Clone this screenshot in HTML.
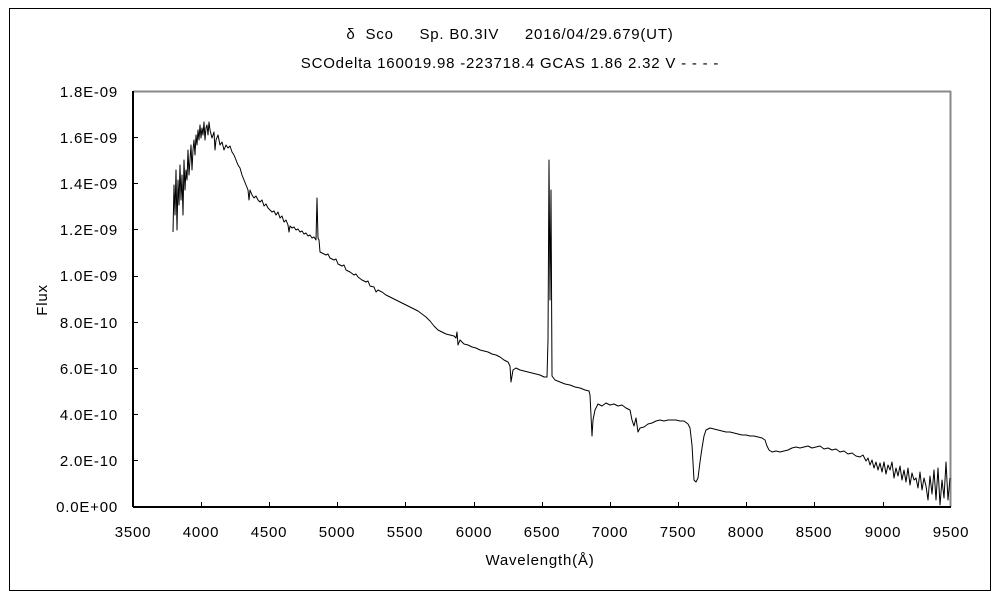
<!DOCTYPE html>
<html><head><meta charset="utf-8"><style>
body{margin:0;background:#fff;}
svg text{font-family:"Liberation Sans","Noto Sans CJK JP",sans-serif;font-size:15px;letter-spacing:0.8px;fill:#000;}
</style></head><body>
<svg width="1000" height="600" xmlns="http://www.w3.org/2000/svg">
<rect x="0" y="0" width="1000" height="600" fill="#fff"/>
<rect x="9.5" y="8.5" width="981" height="582" fill="none" stroke="#000" stroke-width="1"/>
<text x="510" y="39" text-anchor="middle" xml:space="preserve">δ  Sco　  Sp. B0.3IV　  2016/04/29.679(UT)</text>
<text x="510" y="68" text-anchor="middle">SCOdelta 160019.98 -223718.4 GCAS 1.86 2.32  V - - - -</text>
<line x1="133" y1="91.5" x2="951" y2="91.5" stroke="#888" stroke-width="2"/>
<line x1="950.5" y1="91" x2="950.5" y2="507" stroke="#888" stroke-width="2"/>
<line x1="133" y1="91" x2="133" y2="507" stroke="#000" stroke-width="2"/>
<line x1="133" y1="507" x2="951" y2="507" stroke="#000" stroke-width="2"/>
<g stroke="#000" stroke-width="1">
<line x1="133" y1="137.5" x2="138" y2="137.5"/><line x1="133" y1="183.5" x2="138" y2="183.5"/>
<line x1="133" y1="229.5" x2="138" y2="229.5"/><line x1="133" y1="276.5" x2="138" y2="276.5"/>
<line x1="133" y1="322.5" x2="138" y2="322.5"/><line x1="133" y1="368.5" x2="138" y2="368.5"/>
<line x1="133" y1="414.5" x2="138" y2="414.5"/><line x1="133" y1="460.5" x2="138" y2="460.5"/>
<line x1="201.5" y1="507" x2="201.5" y2="502"/><line x1="269.5" y1="507" x2="269.5" y2="502"/>
<line x1="337.5" y1="507" x2="337.5" y2="502"/><line x1="405.5" y1="507" x2="405.5" y2="502"/>
<line x1="474.5" y1="507" x2="474.5" y2="502"/><line x1="542.5" y1="507" x2="542.5" y2="502"/>
<line x1="610.5" y1="507" x2="610.5" y2="502"/><line x1="678.5" y1="507" x2="678.5" y2="502"/>
<line x1="746.5" y1="507" x2="746.5" y2="502"/><line x1="814.5" y1="507" x2="814.5" y2="502"/>
<line x1="883.5" y1="507" x2="883.5" y2="502"/>
</g>
<g>
<text x="118" y="97" text-anchor="end">1.8E-09</text>
<text x="118" y="143" text-anchor="end">1.6E-09</text>
<text x="118" y="189" text-anchor="end">1.4E-09</text>
<text x="118" y="235" text-anchor="end">1.2E-09</text>
<text x="118" y="281" text-anchor="end">1.0E-09</text>
<text x="118" y="328" text-anchor="end">8.0E-10</text>
<text x="118" y="374" text-anchor="end">6.0E-10</text>
<text x="118" y="420" text-anchor="end">4.0E-10</text>
<text x="118" y="466" text-anchor="end">2.0E-10</text>
<text x="118" y="512" text-anchor="end">0.0E+00</text>
</g>
<g text-anchor="middle">
<text x="133" y="537">3500</text><text x="201" y="537">4000</text><text x="269" y="537">4500</text>
<text x="337" y="537">5000</text><text x="405" y="537">5500</text><text x="474" y="537">6000</text>
<text x="542" y="537">6500</text><text x="610" y="537">7000</text><text x="678" y="537">7500</text>
<text x="746" y="537">8000</text><text x="814" y="537">8500</text><text x="883" y="537">9000</text>
<text x="951" y="537">9500</text>
</g>
<text x="540" y="565" text-anchor="middle">Wavelength(Å)</text>
<text transform="translate(47,300) rotate(-90)" text-anchor="middle">Flux</text>
<polyline fill="none" stroke="#000" stroke-width="1" stroke-linejoin="round" points="173,232 174,185 175,215 176,170 177,230 178,180 179,205 180,165 181,200 182,175 183,215 184,160 185,190 186,170 187,180 188,150 189,175 190,160 191,145 192,170 193,150 194,140 195,155 196,135 197,145 198,130 199,140 200,125 201,138 202,128 203,135 204,122 205,140 206,128 207,125 208,135 209,122 210,130 212,138 214,132 215,150 216,140 218,135 220,145 222,142 224,150 226,145 228,148 230,146 232,152 234,155 236,160 238,165 240,168 242,175 244,180 246,185 248,190 249,200 250,190 252,195 254,198 256,196 258,200 260,202 262,200 264,206 266,204 268,208 270,210 272,212 274,211 276,215 278,212 280,218 282,216 284,222 286,220 288,225 289,232 290,226 292,228 294,227 296,230 298,229 300,232 302,231 304,234 306,233 308,236 310,235 312,238 314,237 316,240 317,198 318,238 319,240 320,252 322,253 326,255 328,254 330,258 334,260 336,259 338,264 342,266 344,265 346,270 350,272 354,275 356,274 358,277 362,280 366,282 368,281 370,286 374,287 376,292 378,290 382,292 386,295 390,297 394,299 398,301 402,303 406,305 410,307 414,309 418,311 422,314 426,317 430,321 434,326 438,330 442,332 446,334 450,335 454,336 456,338 457,332 458,345 460,340 464,344 468,345 472,347 476,348 480,350 484,351 488,352 492,354 496,355 500,357 504,360 508,362 510,366 511,382 513,370 516,368 520,370 524,371 528,372 532,373 536,374 540,375 544,377 547,377 548,340 549,160 550,300 551,190 552,376 555,380 560,382 565,384 570,385 575,387 580,388 585,390 589,391 590,395 592,436 593,420 595,410 598,404 602,406 606,403 610,405 614,404 618,406 622,405 626,408 630,410 632,420 634,426 636,418 638,432 640,428 644,427 648,424 652,423 656,421 660,420 664,421 668,420 672,420 676,420 680,421 684,421 688,424 690,428 692,445 694,480 696,482 698,478 700,462 702,448 704,436 706,430 710,428 714,429 718,430 722,431 726,432 730,432 734,433 738,434 742,435 746,435 750,436 754,436 758,437 762,438 765,440 767,446 769,450 772,452 776,451 780,452 784,451 788,450 792,448 796,447 800,448 804,447 808,446 812,448 816,447 820,446 824,449 828,448 832,450 836,449 840,452 844,451 848,454 852,453 856,456 860,457 863,455 866,461 868,458 870,465 872,460 874,468 876,462 878,470 880,463 882,472 884,462 886,474 888,465 890,470 892,462 894,478 896,468 898,476 900,466 902,480 904,470 906,482 908,468 910,485 912,473 914,480 916,478 918,488 920,472 922,490 924,478 926,486 928,500 930,476 932,494 934,470 936,500 938,468 940,505 942,480 944,498 946,462 948,500 950,478"/>
</svg>
</body></html>
